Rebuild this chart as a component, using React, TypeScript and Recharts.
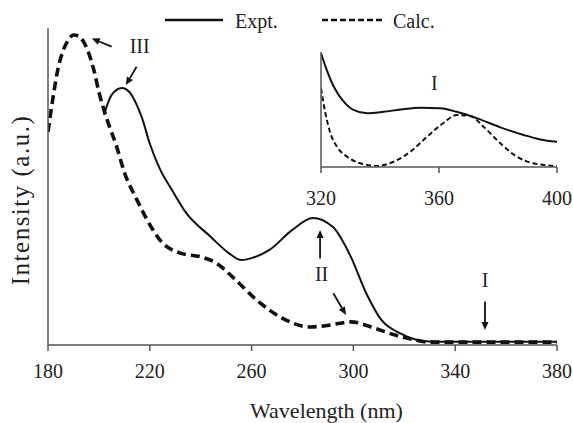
import React from "react";
import { LineChart, Line, XAxis, YAxis, ReferenceLine, ReferenceDot, Label } from "recharts";

const FONT = "'Liberation Serif', 'Times New Roman', serif";
const INK = "#111";
const AXIS = "#555";

const SERIES_NAMES = ["Expt.", "Calc."];

// main spectrum, 180-380 nm
const mainTicks = [180, 220, 260, 300, 340, 380];
const exptWavelength = [202, 205, 209, 212, 215, 217, 220, 224, 229, 234, 244, 251, 256, 260, 267, 276, 284, 292, 299, 305, 311, 318, 325, 330, 340, 350, 360, 370, 380];
const exptIntensity = [72.6, 78.9, 81.1, 79.8, 75.5, 71.5, 63.5, 55.5, 48.5, 42, 34.1, 29, 26.8, 27.4, 30, 36.3, 40.1, 37.2, 27.8, 16.4, 7.9, 3.8, 1.6, 1.1, 1.0, 1.0, 1.0, 1.0, 1.0];
const calcWavelength = [180, 182, 184, 186, 188, 190, 192, 194, 196, 198, 200, 203, 207, 210, 215, 219, 225, 232, 240, 246, 253, 262, 272, 283, 291, 299, 308, 316, 321, 330, 340, 350, 360, 370, 380];
const calcIntensity = [67.2, 78.2, 87.4, 93, 96.2, 97.8, 97.5, 95.6, 92.1, 86.8, 79.8, 71.6, 62.5, 54.5, 45.7, 39.4, 32.2, 29, 27.8, 25.9, 21.1, 14.2, 8.5, 5.7, 6.3, 7.3, 5.4, 3.2, 2.2, 0.9, 0.9, 0.9, 0.9, 0.9, 0.9];

// inset, 320-400 nm
const insetTicks = [320, 360, 400];
const insetExptWavelength = [320, 322, 324.3, 327.7, 331, 335.6, 341.2, 347, 353.7, 360.4, 366, 373, 380.8, 388.7, 394.3, 400];
const insetExptIntensity = [99, 84, 70, 56.8, 49.6, 46.7, 48, 50, 51.6, 51, 48, 42.3, 34.5, 27.8, 24, 22];
const insetCalcWavelength = [320, 321.5, 323.2, 325.4, 328.8, 333.3, 339, 344.6, 350.3, 356, 361.6, 366, 370.6, 375.1, 380.8, 386.4, 392, 400];
const insetCalcIntensity = [68.4, 46.7, 29.3, 17.7, 9, 3.2, 0.9, 4.6, 13.3, 26.4, 38.5, 45.2, 44.3, 35, 20.6, 9, 3.2, 0.9];

// band annotations (wavelength, intensity)
const bandLabels = ["III", "II", "I"];
const bandLabelX = [216, 287.5, 351.7];
const bandLabelY = [94.3, 22.4, 20.5];
const arrowStart = [[205, 94.1], [214.8, 87.8], [286.9, 27.3], [292.1, 16.3], [351.7, 13.7]];
const arrowEnd = [[197.2, 96.7], [210.6, 82], [286.9, 36.3], [297.1, 9.5], [351.7, 4.7]];
const insetLabel = "I";
const insetLabelX = 358.4;
const insetLabelY = 72.8;

const zip = (xs: number[], ys: number[]) => xs.map((x, i) => ({ x, y: ys[i] }));

const exptData = zip(exptWavelength, exptIntensity);
const calcData = zip(calcWavelength, calcIntensity);
const insetExptData = zip(insetExptWavelength, insetExptIntensity);
const insetCalcData = zip(insetCalcWavelength, insetCalcIntensity);

const Arrow = (p: any) => {
  const { x1, y1, x2, y2 } = p;
  if (x1 == null || x2 == null) return <g />;
  const a = Math.atan2(y2 - y1, x2 - x1);
  const L = 8;
  const W = 3.5;
  const bx = x2 - L * Math.cos(a);
  const by = y2 - L * Math.sin(a);
  const pts = `${x2},${y2} ${bx + W * Math.sin(a)},${by - W * Math.cos(a)} ${bx - W * Math.sin(a)},${by + W * Math.cos(a)}`;
  return (
    <g>
      <line x1={x1} y1={y1} x2={bx} y2={by} stroke={INK} strokeWidth={1.8} />
      <polygon points={pts} fill={INK} />
    </g>
  );
};

const tickStyle = { fontSize: 20, fill: "#222", fontFamily: FONT };

export default function App() {
  return (
    <div style={{ position: "absolute", left: 0, top: 0, width: 573, height: 423, background: "#fff" }}>
      {/* main chart */}
      <div style={{ position: "absolute", left: 0, top: 0 }}>
        <LineChart width={573} height={423} margin={{ top: 28, right: 16, left: 0, bottom: 0 }}>
          <XAxis
            dataKey="x"
            type="number"
            domain={[180, 380]}
            ticks={mainTicks}
            height={78}
            tickSize={6}
            tickMargin={13}
            tick={tickStyle}
            axisLine={{ stroke: AXIS, strokeWidth: 1.5 }}
            tickLine={{ stroke: AXIS, strokeWidth: 1.5 }}
            allowDataOverflow
          >
            <Label value="Wavelength (nm)" position="insideBottom" offset={5} dx={24} fontSize={22} fill="#222" fontFamily={FONT} />
          </XAxis>
          <YAxis
            type="number"
            domain={[0, 100]}
            width={48}
            tick={false}
            tickLine={false}
            axisLine={{ stroke: AXIS, strokeWidth: 1.5 }}
            allowDataOverflow
          />
          <Line data={exptData} dataKey="y" type="monotone" stroke={INK} strokeWidth={2} dot={false} isAnimationActive={false} name={SERIES_NAMES[0]} />
          <Line data={calcData} dataKey="y" type="monotone" stroke={INK} strokeWidth={3.6} strokeDasharray="9 5" dot={false} isAnimationActive={false} name={SERIES_NAMES[1]} />
          {arrowStart.map((s, i) => (
            <ReferenceLine
              key={`arrow-${i}`}
              segment={[{ x: s[0], y: s[1] }, { x: arrowEnd[i][0], y: arrowEnd[i][1] }]}
              shape={Arrow}
              ifOverflow="visible"
            />
          ))}
          {bandLabels.map((t, i) => (
            <ReferenceDot
              key={`band-${t}`}
              x={bandLabelX[i]}
              y={bandLabelY[i]}
              r={0}
              fill="none"
              stroke="none"
              ifOverflow="visible"
              label={{ value: t, position: "center", fontSize: 20, fill: "#222", fontFamily: FONT }}
            />
          ))}
        </LineChart>
      </div>

      {/* inset */}
      <div style={{ position: "absolute", left: 300, top: 40 }}>
        <LineChart width={273} height={183} margin={{ top: 12, right: 16, left: 0, bottom: 0 }}>
          <XAxis
            dataKey="x"
            type="number"
            domain={[320, 400]}
            ticks={insetTicks}
            height={56}
            tickSize={6}
            tickMargin={18}
            tick={tickStyle}
            axisLine={{ stroke: AXIS, strokeWidth: 1.5 }}
            tickLine={{ stroke: AXIS, strokeWidth: 1.5 }}
            allowDataOverflow
          />
          <YAxis
            type="number"
            domain={[0, 100]}
            width={21}
            tick={false}
            tickLine={false}
            axisLine={{ stroke: AXIS, strokeWidth: 1.5 }}
            allowDataOverflow
          />
          <Line data={insetExptData} dataKey="y" type="monotone" stroke={INK} strokeWidth={2} dot={false} isAnimationActive={false} />
          <Line data={insetCalcData} dataKey="y" type="monotone" stroke={INK} strokeWidth={2} strokeDasharray="5 3" dot={false} isAnimationActive={false} />
          <ReferenceDot
            x={insetLabelX}
            y={insetLabelY}
            r={0}
            fill="none"
            stroke="none"
            label={{ value: insetLabel, position: "center", fontSize: 20, fill: "#222", fontFamily: FONT }}
          />
        </LineChart>
      </div>

      {/* legend and y label */}
      <svg width={573} height={423} style={{ position: "absolute", left: 0, top: 0, pointerEvents: "none" }}>
        <line x1={165} y1={20} x2={223} y2={20} stroke={INK} strokeWidth={2.5} />
        <text x={235} y={28} fontSize={20} fill="#222" fontFamily={FONT}>{SERIES_NAMES[0]}</text>
        <line x1={322} y1={20} x2={382} y2={20} stroke={INK} strokeWidth={2.5} strokeDasharray="6 3" />
        <text x={393} y={28} fontSize={20} fill="#222" fontFamily={FONT}>{SERIES_NAMES[1]}</text>
        <text
          x={29}
          y={200}
          fontSize={25}
          letterSpacing={1.5}
          fill="#222"
          fontFamily={FONT}
          textAnchor="middle"
          transform="rotate(-90 29 200)"
        >
          Intensity (a.u.)
        </text>
      </svg>
    </div>
  );
}
